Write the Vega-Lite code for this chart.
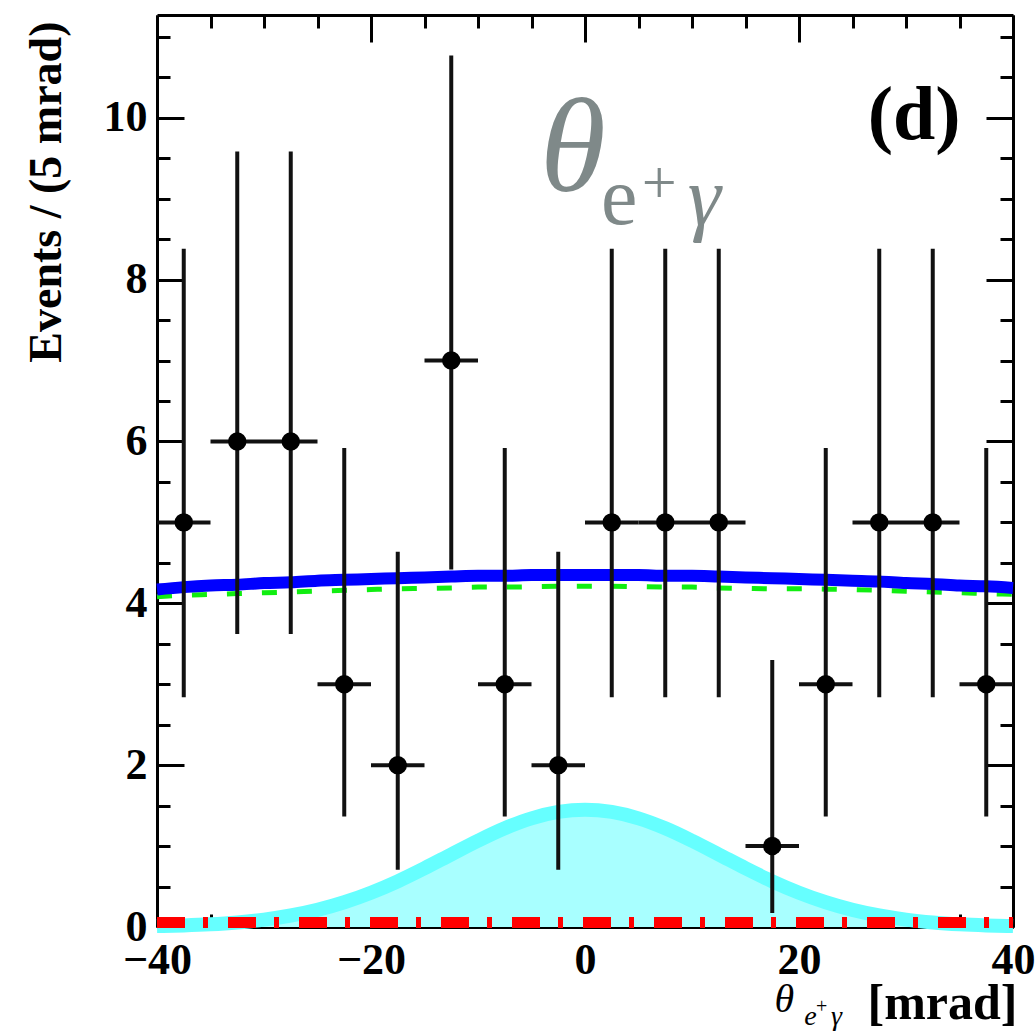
{
  "$schema": "https://vega.github.io/schema/vega-lite/v6.json",
  "width": 856,
  "height": 912,
  "autosize": {"type": "none"},
  "padding": {"left": 157, "top": 15, "right": 22, "bottom": 109},
  "background": "white",
  "config": {
    "view": {"stroke": null},
    "axis": {
      "grid": false,
      "domainColor": "black",
      "domainWidth": 3,
      "tickColor": "black",
      "tickWidth": 3,
      "labelFont": "Liberation Serif",
      "labelFontWeight": "bold",
      "labelFontSize": 44,
      "labelColor": "black",
      "labelFlush": false,
      "labelOverlap": false,
      "titleFont": "Liberation Serif",
      "titleFontWeight": "bold",
      "titleColor": "black"
    }
  },
  "datasets": {
    "points": [
      {"x": -37.5, "n": 5, "lo": 2.840, "hi": 8.382, "xlo": -40, "xhi": -35},
      {"x": -32.5, "n": 6, "lo": 3.620, "hi": 9.584, "xlo": -35, "xhi": -30},
      {"x": -27.5, "n": 6, "lo": 3.620, "hi": 9.584, "xlo": -30, "xhi": -25},
      {"x": -22.5, "n": 3, "lo": 1.367, "hi": 5.918, "xlo": -25, "xhi": -20},
      {"x": -17.5, "n": 2, "lo": 0.708, "hi": 4.638, "xlo": -20, "xhi": -15},
      {"x": -12.5, "n": 7, "lo": 4.419, "hi": 10.77, "xlo": -15, "xhi": -10},
      {"x": -7.5, "n": 3, "lo": 1.367, "hi": 5.918, "xlo": -10, "xhi": -5},
      {"x": -2.5, "n": 2, "lo": 0.708, "hi": 4.638, "xlo": -5, "xhi": 0},
      {"x": 2.5, "n": 5, "lo": 2.840, "hi": 8.382, "xlo": 0, "xhi": 5},
      {"x": 7.5, "n": 5, "lo": 2.840, "hi": 8.382, "xlo": 5, "xhi": 10},
      {"x": 12.5, "n": 5, "lo": 2.840, "hi": 8.382, "xlo": 10, "xhi": 15},
      {"x": 17.5, "n": 1, "lo": 0.173, "hi": 3.300, "xlo": 15, "xhi": 20},
      {"x": 22.5, "n": 3, "lo": 1.367, "hi": 5.918, "xlo": 20, "xhi": 25},
      {"x": 27.5, "n": 5, "lo": 2.840, "hi": 8.382, "xlo": 25, "xhi": 30},
      {"x": 32.5, "n": 5, "lo": 2.840, "hi": 8.382, "xlo": 30, "xhi": 35},
      {"x": 37.5, "n": 3, "lo": 1.367, "hi": 5.918, "xlo": 35, "xhi": 40}
    ],
    "fit": [
      {"x": -40, "total": 4.17, "bkg": 4.08, "sig": 0.011, "peak": 0.055},
      {"x": -37.5, "total": 4.20, "bkg": 4.10, "sig": 0.019, "peak": 0.055},
      {"x": -35, "total": 4.22, "bkg": 4.11, "sig": 0.033, "peak": 0.055},
      {"x": -32.5, "total": 4.23, "bkg": 4.12, "sig": 0.056, "peak": 0.055},
      {"x": -30, "total": 4.25, "bkg": 4.13, "sig": 0.091, "peak": 0.055},
      {"x": -27.5, "total": 4.26, "bkg": 4.14, "sig": 0.142, "peak": 0.055},
      {"x": -25, "total": 4.28, "bkg": 4.15, "sig": 0.212, "peak": 0.055},
      {"x": -22.5, "total": 4.29, "bkg": 4.16, "sig": 0.306, "peak": 0.055},
      {"x": -20, "total": 4.30, "bkg": 4.17, "sig": 0.424, "peak": 0.055},
      {"x": -17.5, "total": 4.31, "bkg": 4.18, "sig": 0.565, "peak": 0.055},
      {"x": -15, "total": 4.32, "bkg": 4.185, "sig": 0.726, "peak": 0.055},
      {"x": -12.5, "total": 4.33, "bkg": 4.19, "sig": 0.897, "peak": 0.055},
      {"x": -10, "total": 4.34, "bkg": 4.20, "sig": 1.066, "peak": 0.055},
      {"x": -7.5, "total": 4.34, "bkg": 4.20, "sig": 1.220, "peak": 0.055},
      {"x": -5, "total": 4.35, "bkg": 4.205, "sig": 1.343, "peak": 0.055},
      {"x": -2.5, "total": 4.35, "bkg": 4.21, "sig": 1.422, "peak": 0.055},
      {"x": 0, "total": 4.35, "bkg": 4.21, "sig": 1.450, "peak": 0.055},
      {"x": 2.5, "total": 4.35, "bkg": 4.21, "sig": 1.422, "peak": 0.055},
      {"x": 5, "total": 4.35, "bkg": 4.205, "sig": 1.343, "peak": 0.055},
      {"x": 7.5, "total": 4.34, "bkg": 4.20, "sig": 1.220, "peak": 0.055},
      {"x": 10, "total": 4.34, "bkg": 4.20, "sig": 1.066, "peak": 0.055},
      {"x": 12.5, "total": 4.33, "bkg": 4.19, "sig": 0.897, "peak": 0.055},
      {"x": 15, "total": 4.32, "bkg": 4.185, "sig": 0.726, "peak": 0.055},
      {"x": 17.5, "total": 4.31, "bkg": 4.18, "sig": 0.565, "peak": 0.055},
      {"x": 20, "total": 4.30, "bkg": 4.18, "sig": 0.424, "peak": 0.055},
      {"x": 22.5, "total": 4.29, "bkg": 4.175, "sig": 0.306, "peak": 0.055},
      {"x": 25, "total": 4.28, "bkg": 4.17, "sig": 0.212, "peak": 0.055},
      {"x": 27.5, "total": 4.27, "bkg": 4.16, "sig": 0.142, "peak": 0.055},
      {"x": 30, "total": 4.25, "bkg": 4.15, "sig": 0.091, "peak": 0.055},
      {"x": 32.5, "total": 4.24, "bkg": 4.14, "sig": 0.056, "peak": 0.055},
      {"x": 35, "total": 4.22, "bkg": 4.13, "sig": 0.033, "peak": 0.055},
      {"x": 37.5, "total": 4.21, "bkg": 4.12, "sig": 0.019, "peak": 0.055},
      {"x": 40, "total": 4.19, "bkg": 4.11, "sig": 0.011, "peak": 0.055}
    ]
  },
  "resolve": {"axis": {"x": "independent", "y": "independent"}},
  "layer": [
    {
      "data": {"name": "fit"},
      "mark": {"type": "area", "color": "#a8ffff", "interpolate": "monotone"},
      "encoding": {
        "x": {
          "field": "x", "type": "quantitative",
          "scale": {"domain": [-40, 40], "nice": false, "zero": false},
          "axis": {
            "orient": "bottom",
            "values": [-40, -20, 0, 20, 40],
            "tickSize": -27,
            "format": "d",
            "labelPadding": 38,
            "title": "[mrad]",
            "titleFontSize": 50,
            "titleAlign": "right",
            "titleBaseline": "alphabetic",
            "titleX": 860,
            "titleY": 91
          }
        },
        "y": {
          "field": "sig", "type": "quantitative",
          "scale": {"domain": [0, 11.27], "nice": false, "zero": false},
          "axis": {
            "orient": "left",
            "values": [0, 2, 4, 6, 8, 10],
            "tickSize": -27,
            "format": "d",
            "labelPadding": 37,
            "title": "Events / (5 mrad)",
            "titleFontSize": 46,
            "titleAngle": -90,
            "titleAlign": "right",
            "titleBaseline": "alphabetic",
            "titleX": -97,
            "titleY": 6
          }
        }
      }
    },
    {
      "data": {"name": "fit"},
      "mark": {"type": "line", "color": "#66ffff", "strokeWidth": 14, "interpolate": "monotone"},
      "encoding": {
        "x": {
          "field": "x", "type": "quantitative",
          "scale": {"domain": [-40, 40], "nice": false, "zero": false},
          "axis": {
            "orient": "top",
            "values": [-40, -20, 0, 20, 40],
            "tickSize": -27,
            "labels": false,
            "title": null
          }
        },
        "y": {
          "field": "sig", "type": "quantitative",
          "scale": {"domain": [0, 11.27], "nice": false, "zero": false},
          "axis": {
            "orient": "right",
            "values": [0, 2, 4, 6, 8, 10],
            "tickSize": -27,
            "labels": false,
            "title": null
          }
        }
      }
    },
    {
      "data": {"name": "fit"},
      "mark": {"type": "line", "color": "#ff0000", "strokeWidth": 11, "strokeDash": [28, 18, 5, 20]},
      "encoding": {
        "x": {
          "field": "x", "type": "quantitative",
          "axis": {
            "orient": "bottom",
            "values": [-35, -30, -25, -15, -10, -5, 5, 10, 15, 25, 30, 35],
            "tickSize": -13,
            "labels": false,
            "domain": false,
            "title": null
          }
        },
        "y": {
          "field": "peak", "type": "quantitative",
          "axis": {
            "orient": "left",
            "values": [0.5, 1, 1.5, 2.5, 3, 3.5, 4.5, 5, 5.5, 6.5, 7, 7.5, 8.5, 9, 9.5, 10.5, 11],
            "tickSize": -13,
            "labels": false,
            "domain": false,
            "title": null
          }
        }
      }
    },
    {
      "data": {"name": "fit"},
      "mark": {"type": "line", "color": "#11ee11", "strokeWidth": 5, "strokeDash": [15, 20], "interpolate": "monotone"},
      "encoding": {
        "x": {
          "field": "x", "type": "quantitative",
          "axis": {
            "orient": "top",
            "values": [-35, -30, -25, -15, -10, -5, 5, 10, 15, 25, 30, 35],
            "tickSize": -13,
            "labels": false,
            "domain": false,
            "title": null
          }
        },
        "y": {
          "field": "bkg", "type": "quantitative",
          "axis": {
            "orient": "right",
            "values": [0.5, 1, 1.5, 2.5, 3, 3.5, 4.5, 5, 5.5, 6.5, 7, 7.5, 8.5, 9, 9.5, 10.5, 11],
            "tickSize": -13,
            "labels": false,
            "domain": false,
            "title": null
          }
        }
      }
    },
    {
      "data": {"name": "fit"},
      "mark": {"type": "line", "color": "#0000ff", "strokeWidth": 12, "interpolate": "monotone"},
      "encoding": {
        "x": {"field": "x", "type": "quantitative", "axis": null},
        "y": {"field": "total", "type": "quantitative", "axis": null}
      }
    },
    {
      "data": {"name": "points"},
      "mark": {"type": "rule", "color": "#111111", "strokeWidth": 4},
      "encoding": {
        "x": {"field": "x", "type": "quantitative", "axis": null},
        "y": {"field": "lo", "type": "quantitative", "axis": null},
        "y2": {"field": "hi"}
      }
    },
    {
      "data": {"name": "points"},
      "mark": {"type": "rule", "color": "#111111", "strokeWidth": 4},
      "encoding": {
        "x": {"field": "xlo", "type": "quantitative", "axis": null},
        "x2": {"field": "xhi"},
        "y": {"field": "n", "type": "quantitative", "axis": null}
      }
    },
    {
      "data": {"name": "points"},
      "mark": {"type": "point", "shape": "circle", "filled": true, "color": "black", "opacity": 1, "size": 340},
      "encoding": {
        "x": {"field": "x", "type": "quantitative", "axis": null},
        "y": {"field": "n", "type": "quantitative", "axis": null}
      }
    },
    {
      "data": {"values": [{}]},
      "mark": {"type": "text", "text": "θ", "font": "Liberation Serif", "fontStyle": "italic", "fontSize": 134, "color": "#7f8989", "align": "left", "baseline": "alphabetic"},
      "encoding": {
        "x": {"datum": -4.2, "type": "quantitative", "axis": null},
        "y": {"datum": 9.1, "type": "quantitative", "axis": null}
      }
    },
    {
      "data": {"values": [{}]},
      "mark": {"type": "text", "text": "e", "font": "Liberation Serif", "fontSize": 82, "color": "#7f8989", "align": "left", "baseline": "alphabetic"},
      "encoding": {
        "x": {"datum": 1.5, "type": "quantitative", "axis": null},
        "y": {"datum": 8.69, "type": "quantitative", "axis": null}
      }
    },
    {
      "data": {"values": [{}]},
      "mark": {"type": "text", "text": "+", "font": "Liberation Serif", "fontSize": 62, "color": "#7f8989", "align": "left", "baseline": "alphabetic"},
      "encoding": {
        "x": {"datum": 5.3, "type": "quantitative", "axis": null},
        "y": {"datum": 8.95, "type": "quantitative", "axis": null}
      }
    },
    {
      "data": {"values": [{}]},
      "mark": {"type": "text", "text": "γ", "font": "Liberation Serif", "fontStyle": "italic", "fontSize": 84, "color": "#7f8989", "align": "left", "baseline": "alphabetic"},
      "encoding": {
        "x": {"datum": 9.6, "type": "quantitative", "axis": null},
        "y": {"datum": 8.67, "type": "quantitative", "axis": null}
      }
    },
    {
      "data": {"values": [{}]},
      "mark": {"type": "text", "text": "(d)", "font": "Liberation Serif", "fontWeight": "bold", "fontSize": 76, "color": "black", "align": "right", "baseline": "alphabetic"},
      "encoding": {
        "x": {"datum": 35.1, "type": "quantitative", "axis": null},
        "y": {"datum": 9.74, "type": "quantitative", "axis": null}
      }
    },
    {
      "data": {"values": [{}]},
      "mark": {"type": "text", "text": "θ", "font": "Liberation Serif", "fontStyle": "italic", "fontSize": 40, "color": "black", "align": "left", "baseline": "alphabetic"},
      "encoding": {
        "x": {"datum": 17.7, "type": "quantitative", "axis": null},
        "y": {"datum": -1.05, "type": "quantitative", "axis": null}
      }
    },
    {
      "data": {"values": [{}]},
      "mark": {"type": "text", "text": "e", "font": "Liberation Serif", "fontStyle": "italic", "fontSize": 28, "color": "black", "align": "left", "baseline": "alphabetic"},
      "encoding": {
        "x": {"datum": 20.5, "type": "quantitative", "axis": null},
        "y": {"datum": -1.21, "type": "quantitative", "axis": null}
      }
    },
    {
      "data": {"values": [{}]},
      "mark": {"type": "text", "text": "+", "font": "Liberation Serif", "fontSize": 20, "color": "black", "align": "left", "baseline": "alphabetic"},
      "encoding": {
        "x": {"datum": 21.6, "type": "quantitative", "axis": null},
        "y": {"datum": -1.06, "type": "quantitative", "axis": null}
      }
    },
    {
      "data": {"values": [{}]},
      "mark": {"type": "text", "text": "γ", "font": "Liberation Serif", "fontStyle": "italic", "fontSize": 28, "color": "black", "align": "left", "baseline": "alphabetic"},
      "encoding": {
        "x": {"datum": 23.0, "type": "quantitative", "axis": null},
        "y": {"datum": -1.21, "type": "quantitative", "axis": null}
      }
    }
  ]
}
